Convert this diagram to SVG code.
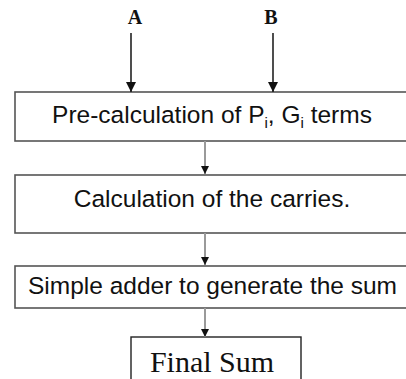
<svg xmlns="http://www.w3.org/2000/svg" width="406" height="379" viewBox="0 0 406 379">
<style>
.box{fill:#fff;stroke:#555;stroke-width:1.6}
.fbox{fill:#fff;stroke:#222;stroke-width:1.4}
.t{font-family:"Liberation Sans",Arial,sans-serif;font-size:24.5px;fill:#111;text-anchor:middle}
.sub{font-size:15px}
.lbl{font-family:"Liberation Serif","Times New Roman",serif;font-weight:bold;font-size:20px;fill:#111;text-anchor:middle}
.fs{font-family:"Liberation Serif","Times New Roman",serif;font-size:30px;fill:#111;text-anchor:middle}
.in{stroke:#222;stroke-width:1.6;fill:none}
.mid{stroke:#9a9a9a;stroke-width:2;fill:none}
</style>
<defs>
<marker id="ah" viewBox="0 0 10 10" refX="10" refY="5" markerWidth="10" markerHeight="10" markerUnits="userSpaceOnUse" orient="auto">
<path d="M0,0 L10,5 L0,10 z" fill="#111"/>
</marker>
<marker id="ahs" viewBox="0 0 10 10" refX="10" refY="5" markerWidth="8" markerHeight="8" markerUnits="userSpaceOnUse" orient="auto">
<path d="M0,0 L10,5 L0,10 z" fill="#111"/>
</marker>
</defs>
<g id="labelA"><text class="lbl" x="135" y="24">A</text></g>
<g id="labelB"><text class="lbl" x="271" y="24">B</text></g>
<g id="n1">
<rect class="box" x="15" y="92" width="400" height="49"/>
<text class="t" x="212" y="123">Pre-calculation of P<tspan class="sub" dy="5">i</tspan><tspan dy="-5">, G</tspan><tspan class="sub" dy="5">i</tspan><tspan dy="-5"> terms</tspan></text>
</g>
<g id="n2">
<rect class="box" x="15" y="175" width="400" height="58"/>
<text class="t" x="212" y="207">Calculation of the carries.</text>
</g>
<g id="n3">
<rect class="box" x="15" y="266" width="400" height="42"/>
<text class="t" x="212.5" y="294">Simple adder to generate the sum</text>
</g>
<g id="n4">
<rect class="fbox" x="131" y="337" width="170" height="60"/>
<text class="fs" x="212" y="372">Final Sum</text>
</g>
<g id="connectors">
<line class="in" x1="131" y1="33" x2="131" y2="92" marker-end="url(#ah)"/>
<line class="in" x1="273" y1="33" x2="273" y2="92" marker-end="url(#ah)"/>
<line class="mid" x1="205" y1="141" x2="205" y2="174" marker-end="url(#ahs)"/>
<line class="mid" x1="205" y1="233" x2="205" y2="265" marker-end="url(#ahs)"/>
<line class="mid" x1="205" y1="308" x2="205" y2="337" marker-end="url(#ahs)"/>
</g>
</svg>
